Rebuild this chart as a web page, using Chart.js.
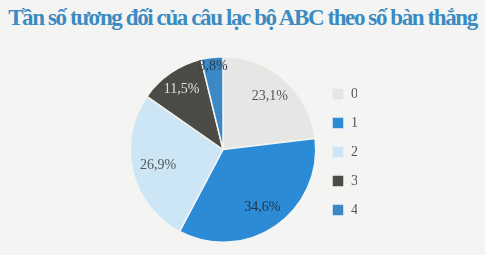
<!DOCTYPE html>
<html>
<head>
<meta charset="utf-8">
<script src="https://cdn.jsdelivr.net/npm/chart.js@4.4.0/dist/chart.umd.min.js"></script>
<style>
  html, body { margin: 0; padding: 0; background: #f4f4f2; }
  #title {
    width: 485px; height: 40px; box-sizing: border-box; padding-top: 4px;
    font: bold 23px/28px "Liberation Serif", "DejaVu Serif", serif;
    color: #3b8bc2; text-align: center; white-space: nowrap; overflow: visible;
  }
  #wrap { width: 485px; height: 215px; }
</style>
</head>
<body>
<div id="title"></div>
<div id="wrap"><canvas id="pieChart"></canvas></div>
<script>
// Data
const titleText = 'Tần số tương đối của câu lạc bộ ABC theo số bàn thắng';
const categories = ['0', '1', '2', '3', '4'];
const shares = [23.1, 34.6, 26.9, 11.5, 3.8];

// Style
const sliceColors = ['#e6e6e4', '#2b8bd6', '#cde6f5', '#4d4b45', '#3a89c6'];
const labelColors = ['#555555', '#22364a', '#555555', '#e0e0dc', '#2a3a4c'];
const labelRadius = [0.76, 0.75, 0.72, 0.79, 0.9];
const serif = '"Liberation Serif", "DejaVu Serif", serif';
const titleWidth = 470;

// title: squeeze letters so the line is as wide as in the picture
const titleEl = document.getElementById('title');
titleEl.textContent = titleText;
const m = document.createElement('canvas').getContext('2d');
m.font = 'bold 23px ' + serif;
const natural = m.measureText(titleText).width;
titleEl.style.letterSpacing = ((titleWidth - natural) / titleText.length).toFixed(2) + 'px';

// Percent labels inside slices
const sliceLabels = {
  id: 'sliceLabels',
  afterDatasetsDraw(chart) {
    const ctx = chart.ctx;
    const meta = chart.getDatasetMeta(0);
    ctx.save();
    ctx.font = '14px ' + serif;
    ctx.textAlign = 'center';
    ctx.textBaseline = 'middle';
    meta.data.forEach((arc, i) => {
      const p = arc.getProps(['x', 'y', 'startAngle', 'endAngle', 'outerRadius'], true);
      const mid = (p.startAngle + p.endAngle) / 2;
      const r = p.outerRadius * labelRadius[i];
      ctx.fillStyle = labelColors[i];
      ctx.fillText(shares[i].toFixed(1).replace('.', ',') + '%', p.x + Math.cos(mid) * r, p.y + Math.sin(mid) * r);
    });
    ctx.restore();
  }
};

const ctx = document.getElementById('pieChart').getContext('2d');
new Chart(ctx, {
  type: 'pie',
  data: {
    labels: categories,
    datasets: [{
      data: shares,
      backgroundColor: sliceColors,
      borderColor: '#f4f4f2',
      borderWidth: 1.5
    }]
  },
  options: {
    responsive: true,
    maintainAspectRatio: false,
    animation: false,
    layout: { padding: { left: 129, right: 128, top: 16, bottom: 12 } },
    plugins: {
      tooltip: { enabled: false },
      legend: {
        position: 'right',
        maxWidth: 40,
        // blank title only nudges the items down a little
        title: { display: true, text: ' ', padding: 0, font: { size: 4 } },
        labels: {
          boxWidth: 12,
          boxHeight: 12,
          padding: 15,
          color: '#555555',
          font: { family: serif, size: 14 }
        }
      }
    }
  },
  plugins: [sliceLabels]
});
</script>
</body>
</html>
